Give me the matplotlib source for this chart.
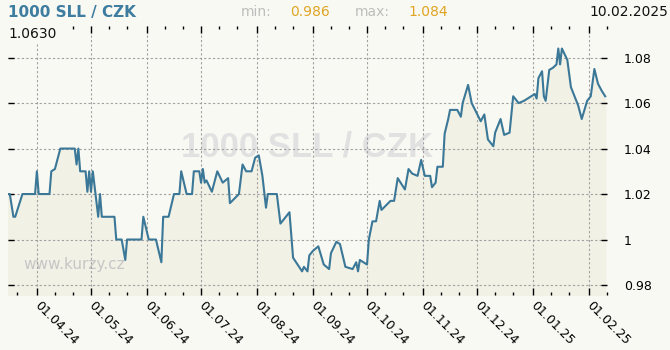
import matplotlib
matplotlib.use('Agg')
import matplotlib.pyplot as plt
import matplotlib.dates as mdates
import pandas as pd
from matplotlib.ticker import FixedLocator, FuncFormatter

# Rate of 1000 SLL in CZK
dates = [
    '2024-03-16', '2024-03-17', '2024-03-19', '2024-03-20', '2024-03-24', '2024-03-31',
    '2024-04-01', '2024-04-02', '2024-04-08', '2024-04-09', '2024-04-11', '2024-04-14',
    '2024-04-22', '2024-04-23', '2024-04-24', '2024-04-25', '2024-04-28', '2024-04-29',
    '2024-04-30', '2024-05-01', '2024-05-02', '2024-05-05', '2024-05-06', '2024-05-07',
    '2024-05-14', '2024-05-15', '2024-05-18', '2024-05-20', '2024-05-21', '2024-05-29',
    '2024-05-30', '2024-06-02', '2024-06-06', '2024-06-09', '2024-06-10', '2024-06-13',
    '2024-06-16', '2024-06-19', '2024-06-20', '2024-06-23', '2024-06-26', '2024-06-27',
    '2024-06-30', '2024-07-01', '2024-07-02', '2024-07-03', '2024-07-04', '2024-07-07',
    '2024-07-10', '2024-07-13', '2024-07-16', '2024-07-17', '2024-07-22', '2024-07-24',
    '2024-07-26', '2024-07-29', '2024-07-31', '2024-08-02', '2024-08-04', '2024-08-06',
    '2024-08-07', '2024-08-12', '2024-08-14', '2024-08-19', '2024-08-21', '2024-08-26',
    '2024-08-27', '2024-08-29', '2024-08-30', '2024-09-01', '2024-09-04', '2024-09-07',
    '2024-09-10', '2024-09-11', '2024-09-14', '2024-09-16', '2024-09-19', '2024-09-23',
    '2024-09-25', '2024-09-26', '2024-09-27', '2024-10-01', '2024-10-02', '2024-10-03',
    '2024-10-04', '2024-10-06', '2024-10-08', '2024-10-09', '2024-10-14', '2024-10-16',
    '2024-10-18', '2024-10-22', '2024-10-24', '2024-10-26', '2024-10-29', '2024-10-31',
    '2024-11-02', '2024-11-05', '2024-11-06', '2024-11-08', '2024-11-09', '2024-11-12',
    '2024-11-13', '2024-11-15', '2024-11-16', '2024-11-20', '2024-11-22', '2024-11-23',
    '2024-11-26', '2024-11-28', '2024-12-03', '2024-12-05', '2024-12-07', '2024-12-10',
    '2024-12-11', '2024-12-14', '2024-12-16', '2024-12-19', '2024-12-21', '2024-12-24',
    '2024-12-27', '2024-12-31', '2025-01-02', '2025-01-03', '2025-01-04', '2025-01-06',
    '2025-01-07', '2025-01-08', '2025-01-10', '2025-01-12', '2025-01-14', '2025-01-15',
    '2025-01-16', '2025-01-17', '2025-01-20', '2025-01-22', '2025-01-26', '2025-01-28',
    '2025-01-31', '2025-02-02', '2025-02-04', '2025-02-06', '2025-02-08', '2025-02-10',
]
rates = [
    1.020, 1.020, 1.010, 1.010, 1.020, 1.020,
    1.030, 1.020, 1.020, 1.030, 1.031, 1.040,
    1.040, 1.033, 1.040, 1.030, 1.030, 1.021,
    1.030, 1.021, 1.030, 1.010, 1.020, 1.010,
    1.010, 1.000, 1.000, 0.991, 1.000, 1.000,
    1.010, 1.000, 1.000, 0.990, 1.010, 1.010,
    1.020, 1.020, 1.030, 1.020, 1.020, 1.030,
    1.030, 1.025, 1.031, 1.025, 1.026, 1.021,
    1.030, 1.025, 1.027, 1.016, 1.020, 1.033,
    1.030, 1.030, 1.036, 1.037, 1.028, 1.014,
    1.020, 1.020, 1.007, 1.012, 0.992, 0.986,
    0.988, 0.986, 0.993, 0.995, 0.997, 0.989,
    0.987, 0.994, 0.999, 0.998, 0.988, 0.987,
    0.990, 0.986, 0.991, 0.989, 1.000, 1.004,
    1.008, 1.008, 1.017, 1.013, 1.017, 1.017,
    1.027, 1.022, 1.031, 1.029, 1.028, 1.035,
    1.028, 1.028, 1.023, 1.025, 1.032, 1.032,
    1.0465, 1.053, 1.057, 1.057, 1.054, 1.060,
    1.068, 1.060, 1.052, 1.055, 1.044, 1.041,
    1.047, 1.053, 1.046, 1.047, 1.063, 1.060,
    1.061, 1.063, 1.064, 1.062, 1.071, 1.074,
    1.063, 1.061, 1.0746, 1.0755, 1.077, 1.084,
    1.077, 1.084, 1.079, 1.067, 1.059, 1.053,
    1.061, 1.063, 1.075, 1.0685, 1.0655, 1.063,
]
yticks = [0.98, 1.00, 1.02, 1.04, 1.06, 1.08]
title = '1000 SLL / CZK'
min_val = '0.986'
max_val = '1.084'
last_date = '10.02.2025'
last_val = '1.0630'

x = pd.to_datetime(dates)
ymin, ymax = 0.9756, 1.0939

bg = '#f9f9f4'
fig = plt.figure(figsize=(6.7, 3.5), dpi=100, facecolor=bg)
ax = fig.add_axes([8 / 670, 55 / 350, 599 / 670, 269 / 350])
ax.set_facecolor(bg)

ax.fill_between(x, rates, ymin, color='#f1f1e6', zorder=1)
ax.plot(x, rates, color='#3b7898', lw=1.5, zorder=3)

ax.set_ylim(ymin, ymax)
ax.set_xlim(pd.Timestamp('2024-03-16'), pd.Timestamp('2025-02-11'))

# ticks: months as major, 11th and 21st as minor
months = pd.date_range('2024-04-01', '2025-02-01', freq='MS')
minor = [d for d in pd.date_range('2024-03-16', '2025-02-11', freq='D') if d.day in (11, 21)]
ax.xaxis.set_major_locator(FixedLocator(mdates.date2num(months)))
ax.xaxis.set_minor_locator(FixedLocator(mdates.date2num(minor)))
ax.xaxis.set_major_formatter(mdates.DateFormatter('%d.%m.%y'))
ax.set_yticks(yticks)
ax.yaxis.set_major_formatter(FuncFormatter(lambda v, p: f'{v:g}'))

ax.tick_params(axis='x', which='major', direction='in', length=5, width=1,
               top=True, bottom=True, labelsize=9, pad=6, color='black')
ax.tick_params(axis='x', which='minor', direction='in', length=2.5, width=1,
               top=True, bottom=True, color='black')
ax.tick_params(axis='y', direction='in', length=4, width=1, left=True, right=True,
               labelleft=False, labelright=True, labelsize=9, pad=12, color='black')
for lab in ax.get_xticklabels():
    lab.set_rotation(-45)
    lab.set_ha('left')
    lab.set_va('center')
    lab.set_rotation_mode('anchor')
for lab in ax.get_yticklabels():
    lab.set_ha('left')

ax.grid(True, which='major', color='#a0a0a0', lw=0.8, linestyle=(0, (2, 2)), zorder=2)
for s in ax.spines.values():
    s.set_visible(False)

# watermarks
ax.text(0.5, 0.55, title, transform=ax.transAxes, ha='center', va='center',
        fontsize=25, fontweight='bold', color='#e1e1e1', family='Liberation Sans', zorder=1.5)
ax.text(0.025, 0.115, 'www.kurzy.cz', transform=ax.transAxes, ha='left', va='center',
        fontsize=11, color='#c6c6c6', zorder=1.5)

# header
fig.text(8 / 670, 1 - 12 / 350, title, ha='left', va='center', fontsize=11,
         fontweight='bold', color='#3e7ca0')
fig.text(241 / 670, 1 - 12 / 350, 'min:', ha='left', va='center', fontsize=10, color='#bdbdbd')
fig.text(290 / 670, 1 - 12 / 350, min_val, ha='left', va='center', fontsize=10, color='#e0a422')
fig.text(355 / 670, 1 - 12 / 350, 'max:', ha='left', va='center', fontsize=10, color='#bdbdbd')
fig.text(408 / 670, 1 - 12 / 350, max_val, ha='left', va='center', fontsize=10, color='#e0a422')
fig.text(668 / 670, 1 - 12 / 350, last_date, ha='right', va='center', fontsize=10, color='#111111')
fig.text(8 / 670, 1 - 34 / 350, last_val, ha='left', va='center', fontsize=10, color='#111111',
         bbox=dict(facecolor=bg, edgecolor='none', pad=1.5), zorder=5)

fig.savefig('out.png', dpi=100, facecolor=bg)
